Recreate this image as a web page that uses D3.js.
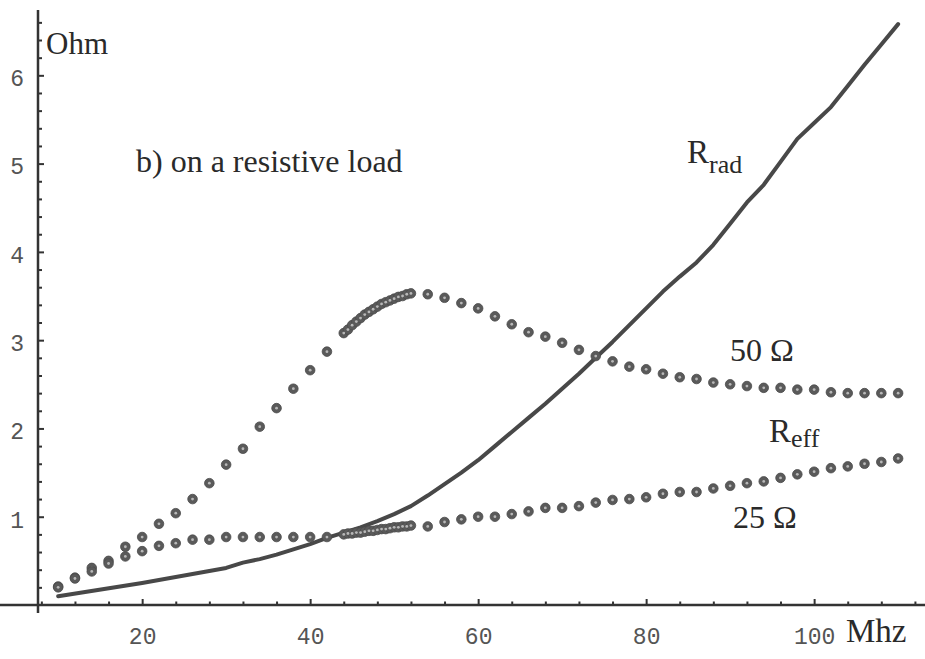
<!DOCTYPE html>
<html>
<head>
<meta charset="utf-8">
<script src="https://cdn.jsdelivr.net/npm/d3@7"></script>
<style>
  body { margin: 0; background: #fff; }
  .serif { font-family: "Liberation Serif", "Times New Roman", serif; fill: #2a2a2a; }
  .axis text { font-family: "Liberation Mono", "Courier New", monospace; font-size: 23px; fill: #555; }
  .axis path, .axis line { stroke: #333; }
</style>
</head>
<body>
<div id="chartDiv"></div>
<script>
// frequency (MHz) and resistance (Ohm)
const radFreq = [10, 20, 30, 32, 34, 36, 38, 40, 42, 44, 46, 48, 50, 52, 54, 56, 58, 60, 62, 64, 66, 68, 70,
    72, 74, 76, 78, 80, 82, 84, 86, 88, 90, 92, 94, 96, 98, 100, 102, 104, 106, 108, 110];
const radVals = [0.10, 0.25, 0.42, 0.48, 0.52, 0.57, 0.63, 0.69, 0.76, 0.82, 0.88, 0.95, 1.03, 1.12, 1.24, 1.37,
    1.50, 1.64, 1.80, 1.96, 2.12, 2.28, 2.45, 2.62, 2.80, 2.98, 3.17, 3.36, 3.55, 3.72, 3.88, 4.08, 4.32, 4.56,
    4.76, 5.02, 5.28, 5.46, 5.64, 5.88, 6.12, 6.35, 6.58];

const freq50 = [10, 12, 14, 16, 18, 20, 22, 24, 26, 28, 30, 32, 34, 36, 38, 40, 42,
    44, 44.5, 45, 45.5, 46, 46.5, 47, 47.5, 48, 48.5, 49, 49.5, 50, 50.5, 51, 51.5, 52,
    54, 56, 58, 60, 62, 64, 66, 68, 70, 72, 74, 76, 78, 80, 82, 84, 86, 88, 90, 92, 94, 96, 98,
    100, 102, 104, 106, 108, 110];
const vals50 = [0.21, 0.31, 0.42, 0.50, 0.66, 0.77, 0.92, 1.04, 1.20, 1.38, 1.59, 1.77, 2.02, 2.23, 2.45, 2.66, 2.87,
    3.08, 3.12, 3.17, 3.21, 3.25, 3.29, 3.32, 3.35, 3.38, 3.41, 3.43, 3.45, 3.47, 3.49, 3.50, 3.52, 3.53,
    3.52, 3.48, 3.42, 3.36, 3.27, 3.18, 3.09, 3.04, 2.97, 2.89, 2.82, 2.76, 2.70, 2.67, 2.62, 2.58, 2.56, 2.52,
    2.50, 2.48, 2.46, 2.46, 2.44, 2.44, 2.41, 2.40, 2.40, 2.40, 2.40];

const freq25 = [10, 12, 14, 16, 18, 20, 22, 24, 26, 28, 30, 32, 34, 36, 38, 40, 42,
    44, 44.5, 45, 45.5, 46, 46.5, 47, 47.5, 48, 48.5, 49, 49.5, 50, 50.5, 51, 51.5, 52,
    54, 56, 58, 60, 62, 64, 66, 68, 70, 72, 74, 76, 78, 80, 82, 84, 86, 88, 90, 92, 94, 96, 98,
    100, 102, 104, 106, 108, 110];
const vals25 = [0.20, 0.30, 0.38, 0.47, 0.55, 0.61, 0.67, 0.70, 0.74, 0.74, 0.77, 0.77, 0.77, 0.77, 0.77, 0.77, 0.77,
    0.80, 0.81, 0.81, 0.82, 0.82, 0.83, 0.84, 0.84, 0.85, 0.86, 0.86, 0.87, 0.88, 0.88, 0.89, 0.89, 0.90,
    0.89, 0.94, 0.97, 1.00, 1.00, 1.03, 1.06, 1.10, 1.10, 1.12, 1.16, 1.19, 1.20, 1.22, 1.26, 1.28, 1.28, 1.32,
    1.35, 1.38, 1.40, 1.44, 1.48, 1.51, 1.55, 1.57, 1.60, 1.62, 1.66];

const xMajor = [20, 40, 60, 80, 100];
const yMajor = [1, 2, 3, 4, 5, 6];

const W = 925, H = 659;
const svg = d3.create('svg').attr('width', W).attr('height', H);

const x = d3.scaleLinear().domain([7.6, 113.2]).range([38, 925]);
const y = d3.scaleLinear().domain([0, 6.74]).range([605, 10]);

// minor ticks first so the main axes sit on top
svg.append('g')
    .attr('class', 'axis')
    .attr('transform', `translate(0,${y(0)})`)
    .call(d3.axisBottom(x).tickValues(d3.range(8, 113, 4).filter(d => d % 20 !== 0)).tickFormat('').tickSizeInner(-3.5).tickSizeOuter(0))
    .call(g => g.select('.domain').remove())
    .selectAll('line').attr('stroke-width', 2);

svg.append('g')
    .attr('class', 'axis')
    .attr('transform', `translate(${x(7.6)},0)`)
    .call(d3.axisLeft(y).tickValues(d3.range(1, 34).map(d => d * 0.2).filter(d => Math.abs(d - Math.round(d)) > 0.01)).tickFormat('').tickSizeInner(-4).tickSizeOuter(0))
    .call(g => g.select('.domain').remove())
    .selectAll('line').attr('stroke-width', 2);

const xAxis = svg.append('g')
    .attr('class', 'axis')
    .attr('transform', `translate(0,${y(0)})`)
    .call(d3.axisBottom(x).tickValues(xMajor).tickFormat(d3.format('d')).tickSizeInner(-6).tickSizeOuter(0).tickPadding(23));
xAxis.select('.domain').attr('d', `M${-2},0H${W}`).attr('stroke-width', 2.5);
xAxis.selectAll('line').attr('stroke-width', 2);

const yAxis = svg.append('g')
    .attr('class', 'axis')
    .attr('transform', `translate(${x(7.6)},0)`)
    .call(d3.axisLeft(y).tickValues(yMajor).tickFormat(d3.format('d')).tickSizeInner(-6).tickSizeOuter(0).tickPadding(14));
yAxis.select('.domain').attr('d', `M0,${y(0) + 8}V${y(6.74)}`).attr('stroke-width', 2.5);
yAxis.selectAll('line').attr('stroke-width', 2);
yAxis.selectAll('text').attr('dy', '0.45em');

// R_rad solid curve
const line = d3.line().x(d => x(d[0])).y(d => y(d[1]));
svg.append('path')
    .datum(d3.zip(radFreq, radVals))
    .attr('fill', 'none')
    .attr('stroke', '#484848')
    .attr('stroke-width', 4)
    .attr('stroke-linejoin', 'round')
    .attr('stroke-linecap', 'round')
    .attr('d', line);

// R_eff dotted series
function dots(fs, vs, cls) {
    const g = svg.append('g').attr('class', cls);
    const pts = d3.zip(fs, vs);
    g.selectAll('circle.o').data(pts).enter().append('circle')
        .attr('cx', d => x(d[0]))
        .attr('cy', d => y(d[1]))
        .attr('r', 4.8)
        .attr('fill', '#5a5a5a')
        .attr('stroke', '#4a4a4a')
        .attr('stroke-width', 0.8);
    g.selectAll('circle.i').data(pts).enter().append('circle')
        .attr('cx', d => x(d[0]))
        .attr('cy', d => y(d[1]))
        .attr('r', 1.4)
        .attr('fill', '#b8b8b8');
}
dots(freq50, vals50, 'r50');
dots(freq25, vals25, 'r25');

// labels
const txt = (px, py, s, size) => svg.append('text').attr('class', 'serif')
    .attr('x', px).attr('y', py).attr('font-size', size).text(s);

txt(46, 54, 'Ohm', 31);
txt(136, 172, 'b) on a resistive load', 32);
txt(730, 361, '50 Ω', 32);
txt(733, 528, '25 Ω', 32);
txt(846, 642, 'Mhz', 33);

const rrad = txt(687, 163, 'R', 33);
rrad.append('tspan').attr('font-size', 26).attr('dy', 10).text('rad');
const reff = txt(769, 442, 'R', 33);
reff.append('tspan').attr('font-size', 26).attr('dy', 5).text('eff');

d3.select('#chartDiv').append(() => svg.node());
</script>
</body>
</html>
